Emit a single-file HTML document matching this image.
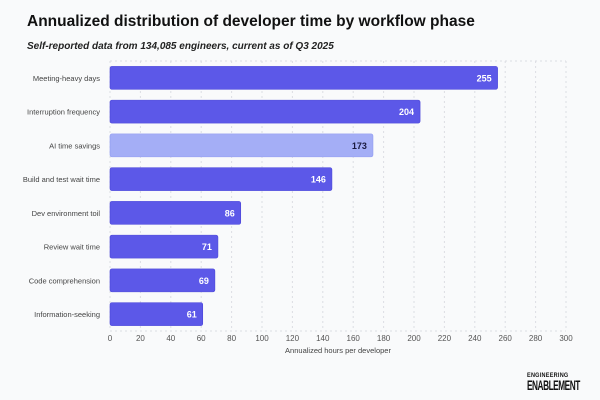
<!DOCTYPE html>
<html><head><meta charset="utf-8"><style>
body{margin:0;background:#f9fafb;font-family:"Liberation Sans",sans-serif;}
#wrap{position:relative;width:600px;height:400px;background:#f9fafb;overflow:hidden}
h1{position:absolute;left:27px;top:13px;margin:0;font-size:15.5px;font-weight:bold;color:#111;}
.sub{position:absolute;left:27px;top:41px;font-size:10px;font-style:italic;font-weight:bold;color:#222}
.logo{position:absolute;left:527px;top:373px;font-family:"Liberation Sans Narrow","Liberation Sans",sans-serif;color:#111;line-height:1}
</style></head><body>
<div id="wrap">
<h1>Annualized distribution of developer time by workflow phase</h1>
<div class="sub">Self-reported data from 134,085 engineers, current as of Q3 2025</div>
<svg id="chart" width="600" height="400" style="position:absolute;left:0;top:0"></svg>
<div class="logo"><div style="font-size:6.5px;letter-spacing:0.3px;font-weight:bold;transform:scaleX(0.85);transform-origin:top left">ENGINEERING</div><div style="font-size:11px;font-weight:bold;letter-spacing:-0.6px;transform:scale(0.75,1.25);transform-origin:top left">ENABLEMENT</div></div>
</div>
<script>
const categories=["Meeting-heavy days","Interruption frequency","AI time savings","Build and test wait time","Dev environment toil","Review wait time","Code comprehension","Information-seeking"];
const values=[255,204,173,146,86,71,69,61];
const highlight=[false,false,true,false,false,false,false,false];
const ticks=[0,20,40,60,80,100,120,140,160,180,200,220,240,260,280,300];
const NS="http://www.w3.org/2000/svg";
const svg=document.getElementById('chart');
const x0=110,x1=566,yTop=61,yBot=331;
const xs=v=>x0+(v/300)*(x1-x0);
const band=(yBot-yTop)/categories.length;
const yc=i=>yTop+band*(i+0.5);
function mk(t,a){const e=document.createElementNS(NS,t);for(const k in a)e.setAttribute(k,a[k]);svg.appendChild(e);return e;}
ticks.forEach(t=>{
 const g=mk('line',{x1:xs(t),x2:xs(t),y1:yTop,y2:yBot,stroke:'#dcdde3','stroke-dasharray':'2,3','stroke-width':1});
 
 
 const l=mk('text',{x:xs(t),y:yBot+10,'text-anchor':'middle','font-size':8,fill:'#555'});
 l.textContent=t;
 
 
});
const topLine=mk('line',{x1:x0,x2:x1,y1:yTop,y2:yTop,stroke:'#dcdde3','stroke-dasharray':'2,3'});


const axLine=mk('line',{x1:x0,x2:x1,y1:yBot,y2:yBot,stroke:'#dcdde3','stroke-dasharray':'2,3'});


categories.forEach((c,i)=>{
 const y=yc(i),h=23;
 const r=mk('rect',{x:x0,y:y-h/2,width:xs(values[i])-x0,height:h,rx:2,fill:highlight[i]?'#a4aef6':'#5c58e8',stroke:highlight[i]?'#8e99f0':'#4a45d8','stroke-width':0.6});
 
 
 const v=mk('text',{x:xs(values[i])-6,y:y+3.5,'text-anchor':'end','font-size':9,'font-weight':'bold',fill:highlight[i]?'#1a1a40':'#fff'});
 v.textContent=values[i];
 
 
 const l=mk('text',{x:x0-10,y:y+3,'text-anchor':'end','font-size':7.5,fill:'#444'});
 l.textContent=c;
 
 
});
const xt=mk('text',{x:(x0+x1)/2,y:yBot+22,'text-anchor':'middle','font-size':7.5,fill:'#444'});
xt.textContent='Annualized hours per developer';


</script>
</body></html>
